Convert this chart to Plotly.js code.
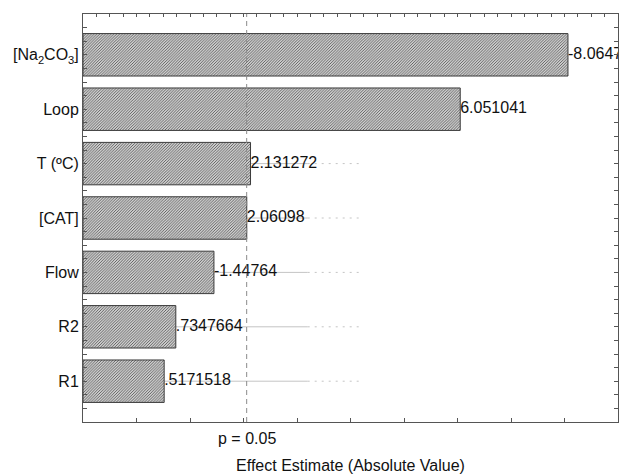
<!DOCTYPE html>
<html>
<head>
<meta charset="utf-8">
<script src="https://cdn.plot.ly/plotly-3.0.1.min.js"></script>
<style>html,body{margin:0;padding:0;background:#fff;}#chart{width:622px;height:474px;}</style>
</head>
<body>
<div id="chart"></div>
<script>
// Data (Pareto chart of standardized effects)
const categories = ["[Na<sub>2</sub>CO<sub>3</sub>]", "Loop", "T (ºC)", "[CAT]", "Flow", "R2", "R1"];
const effects = [-8.064742, 6.051041, 2.131272, 2.06098, -1.44764, 0.7347664, 0.5171518];
const pCritical = 2.0595;
const pLabel = "p = 0.05";
const xTitle = "Effect Estimate (Absolute Value)";

// axis setup
const xMin = -1, xMax = 9;
const FONT = "Liberation Sans, Arial, sans-serif";

const idx = categories.map((c, i) => i);
const absVals = effects.map(v => Math.abs(v));
const fmt = v => String(v).replace(/^(-?)0\./, "$1.");
const labels = effects.map(fmt);

// leader lines behind bars (Statistica style)
const leadSolidEnd = 3.2, leadDashEnd = 4.23;
const shapes = [];
idx.forEach(i => {
  shapes.push({type: "line", xref: "x", yref: "y", x0: xMin, x1: leadSolidEnd, y0: i, y1: i,
    line: {color: "#c4c4c4", width: 1}, layer: "below"});
  shapes.push({type: "line", xref: "x", yref: "y", x0: leadSolidEnd, x1: leadDashEnd, y0: i, y1: i,
    line: {color: "#c4c4c4", width: 1, dash: "2px,5px"}, layer: "below"});
});
// p = 0.05 critical line
shapes.push({type: "line", xref: "x", yref: "paper", x0: pCritical, x1: pCritical, y0: 0, y1: 1,
  line: {color: "#8a8a8a", width: 1, dash: "5px,4px"}, layer: "above"});

const bars = {
  type: "bar", orientation: "h",
  y: idx, base: idx.map(() => xMin), x: absVals.map(v => v - xMin),
  width: 0.78,
  marker: {color: "#ffffff", line: {color: "#3a3a3a", width: 1},
    pattern: {shape: "/", size: 2, solidity: 0.5, fgcolor: "#555555", bgcolor: "#ffffff"}},
  hoverinfo: "skip", showlegend: false
};
const texts = {
  type: "scatter", mode: "text", x: absVals, y: idx, text: labels,
  textposition: "middle right", cliponaxis: true,
  textfont: {family: FONT, size: 16, color: "#111"},
  hoverinfo: "skip", showlegend: false
};
// dummy trace on top axis for minor ticks
const topAxisTrace = {type: "scatter", x: [xMin, xMax], y: [0, 0], xaxis: "x2", mode: "none",
  hoverinfo: "skip", showlegend: false};

const layout = {
  width: 622, height: 474,
  margin: {l: 83, r: 4, t: 14, b: 52},
  paper_bgcolor: "#fff", plot_bgcolor: "#fff",
  font: {family: FONT, size: 16, color: "#111"},
  bargap: 0,
  xaxis: {range: [xMin, xMax], dtick: 1, tick0: 0, showticklabels: false, showgrid: false, zeroline: false,
    ticks: "inside", ticklen: 4, tickcolor: "#555", showline: true, linecolor: "#555", linewidth: 1, mirror: true,
    title: {text: xTitle, font: {size: 16, family: FONT, color: "#111"}, standoff: 37}},
  xaxis2: {overlaying: "x", side: "top", range: [xMin, xMax], dtick: 0.25, tick0: 0, showticklabels: false,
    showgrid: false, zeroline: false, ticks: "inside", ticklen: 3, tickcolor: "#555"},
  yaxis: {range: [6.75, -0.75], tickvals: idx, ticktext: categories, showgrid: false, zeroline: false,
    ticks: "inside", ticklen: 4, tickcolor: "#555", showline: true, linecolor: "#555", linewidth: 1,
    mirror: "allticks", tickfont: {size: 16, family: FONT, color: "#111"},
    minor: {dtick: 0.25, tick0: 0, ticks: "inside", ticklen: 3, tickcolor: "#555", showgrid: false}},
  shapes: shapes,
  annotations: [{xref: "x", yref: "paper", x: pCritical, y: -0.014, yanchor: "top", xanchor: "center",
    text: pLabel, showarrow: false, font: {size: 16, family: FONT, color: "#111"}}]
};

Plotly.newPlot("chart", [bars, texts, topAxisTrace], layout, {displayModeBar: false, staticPlot: true});
</script>
</body>
</html>
